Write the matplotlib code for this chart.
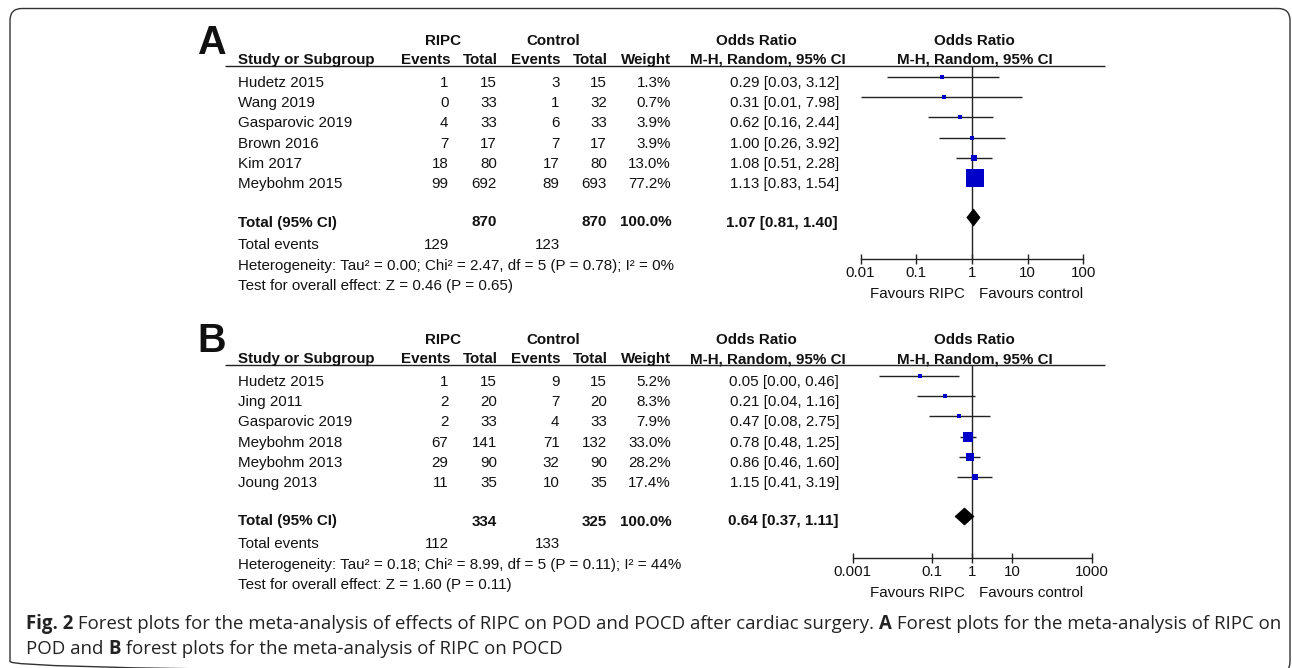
import matplotlib
matplotlib.use("Agg")
import matplotlib.pyplot as plt
from matplotlib.patches import FancyBboxPatch, Polygon
from matplotlib.ticker import NullLocator, FixedLocator, FixedFormatter

plt.rcParams['font.family'] = ['Liberation Sans', 'DejaVu Sans']

# ---------------- data: panel A (POD) ----------------
studies_a = ["Hudetz 2015", "Wang 2019", "Gasparovic 2019", "Brown 2016", "Kim 2017", "Meybohm 2015"]
ripc_events_a = [1, 0, 4, 7, 18, 99]
ripc_total_a = [15, 33, 33, 17, 80, 692]
ctrl_events_a = [3, 1, 6, 7, 17, 89]
ctrl_total_a = [15, 32, 33, 17, 80, 693]
weight_a = [1.3, 0.7, 3.9, 3.9, 13.0, 77.2]
or_a = [0.29, 0.31, 0.62, 1.00, 1.08, 1.13]
lo_a = [0.03, 0.01, 0.16, 0.26, 0.51, 0.83]
hi_a = [3.12, 7.98, 2.44, 3.92, 2.28, 1.54]
pooled_a = [1.07, 0.81, 1.40]
sums_a = [870, 870]
events_a = [129, 123]
het_a = "Heterogeneity: Tau\u00b2 = 0.00; Chi\u00b2 = 2.47, df = 5 (P = 0.78); I\u00b2 = 0%"
test_a = "Test for overall effect: Z = 0.46 (P = 0.65)"
ticks_a = [0.01, 0.1, 1, 10, 100]
ticklabels_a = ["0.01", "0.1", "1", "10", "100"]

# ---------------- data: panel B (POCD) ----------------
studies_b = ["Hudetz 2015", "Jing 2011", "Gasparovic 2019", "Meybohm 2018", "Meybohm 2013", "Joung 2013"]
ripc_events_b = [1, 2, 2, 67, 29, 11]
ripc_total_b = [15, 20, 33, 141, 90, 35]
ctrl_events_b = [9, 7, 4, 71, 32, 10]
ctrl_total_b = [15, 20, 33, 132, 90, 35]
weight_b = [5.2, 8.3, 7.9, 33.0, 28.2, 17.4]
or_b = [0.05, 0.21, 0.47, 0.78, 0.86, 1.15]
lo_b = [0.0047, 0.04, 0.08, 0.48, 0.46, 0.41]
hi_b = [0.46, 1.16, 2.75, 1.25, 1.60, 3.19]
pooled_b = [0.64, 0.37, 1.11]
sums_b = [334, 325]
events_b = [112, 133]
het_b = "Heterogeneity: Tau\u00b2 = 0.18; Chi\u00b2 = 8.99, df = 5 (P = 0.11); I\u00b2 = 44%"
test_b = "Test for overall effect: Z = 1.60 (P = 0.11)"
ticks_b = [0.001, 0.1, 1, 10, 1000]
ticklabels_b = ["0.001", "0.1", "1", "10", "1000"]

caption_line1 = [("Fig. 2", True),
                 (" Forest plots for the meta-analysis of effects of RIPC on POD and POCD after cardiac surgery. ", False),
                 ("A", True),
                 (" Forest plots for the meta-analysis of RIPC on", False)]
caption_line2 = [("POD and ", False), ("B", True), (" forest plots for the meta-analysis of RIPC on POCD", False)]

# ---------------- figure ----------------
W, H = 1292, 668
fig = plt.figure(figsize=(W / 100, H / 100), dpi=100)
fig.patch.set_facecolor('white')
ax = fig.add_axes([0, 0, 1, 1])
ax.set_xlim(0, W)
ax.set_ylim(H, 0)
ax.axis('off')

TXT = '#111111'
BLUE = '#0000C8'
FS = 10.9


def T(x, y, s, ha='left', bold=False, size=FS, **kw):
    return ax.text(x, y, s, ha=ha, va='baseline', fontsize=size,
                   fontweight='bold' if bold else 'normal', color=TXT, **kw)


# frame (bottom edge falls just outside the picture)
frame = FancyBboxPatch((10, 8.5), 1280, 665, boxstyle="round,pad=0,rounding_size=12",
                       fc='none', ec='#333333', lw=1.0)
ax.add_patch(frame)


def panel(off, letter, studies, re, rt, ce, ct, w, orv, lo, hi, pooled, sums, events,
          het, test, ticks, ticklabels, ax_left, ax_right, max_side):
    # letter
    T(211.5, 53.5 + off, letter, ha='center', bold=True, size=28.5)
    # headers
    T(443.5, 45 + off, "RIPC", ha='center', bold=True)
    T(553, 45 + off, "Control", ha='center', bold=True)
    T(756.5, 45 + off, "Odds Ratio", ha='center', bold=True)
    T(974, 45 + off, "Odds Ratio", ha='center', bold=True)
    hb = 64 + off
    T(238, hb, "Study or Subgroup", bold=True)
    T(450, hb, "Events", ha='right', bold=True)
    T(497.5, hb, "Total", ha='right', bold=True)
    T(561, hb, "Events", ha='right', bold=True)
    T(608, hb, "Total", ha='right', bold=True)
    T(671, hb, "Weight", ha='right', bold=True)
    T(768, hb, "M-H, Random, 95% CI", ha='center', bold=True)
    T(975, hb, "M-H, Random, 95% CI", ha='center', bold=True)
    ax.plot([225, 1105], [66 + off, 66 + off], color='#222222', lw=1.0, solid_capstyle='butt')

    row0, step = 86.7 + off, 20.3
    ys = [row0 + i * step for i in range(len(studies))]
    for i, y in enumerate(ys):
        T(238, y, studies[i])
        T(448.5, y, str(re[i]), ha='right')
        T(497, y, str(rt[i]), ha='right')
        T(559.5, y, str(ce[i]), ha='right')
        T(607, y, str(ct[i]), ha='right')
        T(671, y, f"{w[i]:.1f}%", ha='right')
        T(839, y, f"{orv[i]:.2f} [{lo[i]:.2f}, {hi[i]:.2f}]", ha='right')
    yt = 226.5 + off
    T(238, yt, "Total (95% CI)", bold=True)
    T(496.5, yt, str(sums[0]), ha='right', bold=True)
    T(606.5, yt, str(sums[1]), ha='right', bold=True)
    T(671.5, yt, f"{sum(w):.1f}%", ha='right', bold=True)
    T(838, yt, f"{pooled[0]:.2f} [{pooled[1]:.2f}, {pooled[2]:.2f}]", ha='right', bold=True)
    ye = 249.3 + off
    T(238, ye, "Total events")
    T(449, ye, str(events[0]), ha='right')
    T(559.5, ye, str(events[1]), ha='right')
    T(238, 270 + off, het)
    T(238, 290 + off, test)
    T(965, 298 + off, "Favours RIPC", ha='right')
    T(979, 298 + off, "Favours control", ha='left')

    # forest axes, y in pixel units shared with main axes
    ytop, ybot = 40 + off, 258.5 + off
    fa = fig.add_axes([ax_left / W, 1 - ybot / H, (ax_right - ax_left) / W, (ybot - ytop) / H])
    fa.set_xscale('log')
    fa.set_xlim(ticks[0], ticks[-1])
    fa.set_ylim(ybot, ytop)
    fa.patch.set_visible(False)
    for s in ['top', 'left', 'right']:
        fa.spines[s].set_visible(False)
    fa.spines['bottom'].set_color('#222222')
    fa.spines['bottom'].set_linewidth(1.0)
    fa.xaxis.set_major_locator(FixedLocator(ticks))
    fa.xaxis.set_major_formatter(FixedFormatter(ticklabels))
    fa.xaxis.set_minor_locator(NullLocator())
    fa.set_yticks([])
    fa.tick_params(axis='x', direction='inout', length=6.5, width=1.0, color='#222222',
                   labelsize=FS, labelcolor=TXT, pad=2.0)
    fa.vlines(1, 66 + off, ybot, color='#222222', lw=1.0, clip_on=False)
    pys = [y - 10 for y in ys]
    fa.hlines(pys, lo, hi, color='#222222', lw=1.0, clip_on=False)
    maxw = max(w)
    for i, py in enumerate(pys):
        side_px = 3 + (max_side - 3) * w[i] / maxw
        side_pt = side_px * 72 / 100
        fa.scatter([orv[i]], [py], marker='s', s=side_pt ** 2, color=BLUE,
                   linewidths=0, zorder=3, clip_on=False)
    dy = yt - 9
    hh = 8.5
    dia = Polygon([(pooled[1], dy), (pooled[0], dy - hh), (pooled[2], dy), (pooled[0], dy + hh)],
                  closed=True, fc='black', ec='black', lw=0.5, zorder=4, clip_on=False)
    fa.add_patch(dia)


panel(0, "A", studies_a, ripc_events_a, ripc_total_a, ctrl_events_a, ctrl_total_a, weight_a,
      or_a, lo_a, hi_a, pooled_a, sums_a, events_a, het_a, test_a, ticks_a, ticklabels_a,
      860.5, 1083.3, 18)
panel(299, "B", studies_b, ripc_events_b, ripc_total_b, ctrl_events_b, ctrl_total_b, weight_b,
      or_b, lo_b, hi_b, pooled_b, sums_b, events_b, het_b, test_b, ticks_b, ticklabels_b,
      852.7, 1091.7, 10)

# caption with mixed bold runs
fig.canvas.draw()
renderer = fig.canvas.get_renderer()
CAP_FONT = ['Open Sans', 'DejaVu Sans']


def run_line(pieces, x0, y, size):
    x = x0
    for s, b in pieces:
        t = ax.text(x, y, s, ha='left', va='baseline', fontsize=size, family=CAP_FONT,
                    fontweight='bold' if b else 'normal', color='#222222')
        bb = t.get_window_extent(renderer)
        x += bb.width
    return x - x0


# measure line 1 at a test size, then scale to the target width
probe = []
tw = 0
for s, b in caption_line1:
    t = ax.text(0, 0, s, fontsize=10, family=CAP_FONT, fontweight='bold' if b else 'normal')
    tw += t.get_window_extent(renderer).width
    probe.append(t)
for t in probe:
    t.remove()
cap_size = 10 * 1251 / tw
run_line(caption_line1, 26, 629, cap_size)
run_line(caption_line2, 26, 654, cap_size)

fig.savefig("out.png", dpi=100, facecolor='white')
